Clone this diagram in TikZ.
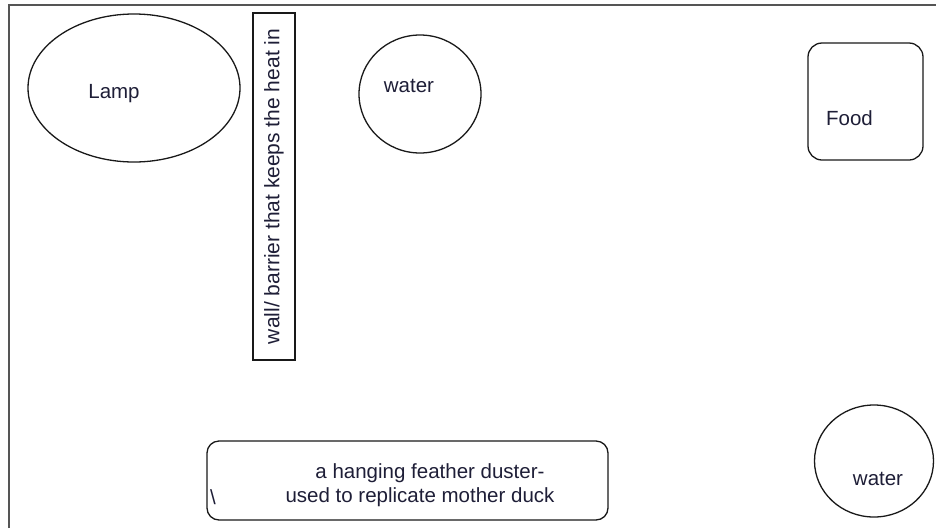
\documentclass[tikz,border=0pt]{standalone}
\usepackage{fontspec}
\setmainfont{Liberation Sans}
\usetikzlibrary{shapes.geometric, positioning}

\begin{document}
\begin{tikzpicture}[x=1pt, y=-1pt]

\definecolor{framegray}{RGB}{85, 85, 85}
\definecolor{inkblack}{RGB}{25, 25, 25}
\definecolor{labelnavy}{RGB}{30, 30, 55}

% Page size and open frame
\useasboundingbox (0,0) rectangle (936,528);
\draw[framegray, line width=2pt] (9,528) -- (9,5) -- (936,5);

\tikzset{
    round item/.style={
        draw=inkblack, line width=1.3pt, ellipse,
        inner sep=0pt
    },
    box item/.style={
        draw=inkblack, line width=1.3pt, rectangle,
        inner sep=0pt, rounded corners=14pt
    },
    wall block/.style={
        draw=inkblack, line width=1.3pt, rectangle,
        inner sep=0pt, rotate=90,
        text=labelnavy, font=\fontsize{21}{24}\selectfont
    },
    tag/.style={
        text=labelnavy, inner sep=0pt,
        font=\fontsize{20.5}{24}\selectfont
    }
}

% Heat lamp and the wall beside it
\node[round item, minimum width=212pt, minimum height=148pt] (lamp) at (134,88) {};
\node[tag] (lamptext) at ([xshift=-20pt, yshift=-6pt]lamp.center) {Lamp};
\node[wall block, minimum width=347pt, minimum height=42pt] (wall) at (274,186.5) {wall/ barrier that keeps the heat in};

% Water and food
\node[round item, minimum width=122pt, minimum height=118pt] (waterA) at (420,94) {};
\node[tag] (waterAtext) at ([xshift=-11pt, yshift=8pt]waterA.center) {water};

\node[box item, minimum width=115pt, minimum height=117pt] (food) at (865.5,101.5) {};
\node[tag] (foodtext) at ([xshift=-16pt, yshift=-17pt]food.center) {Food};

\node[round item, minimum width=119pt, minimum height=112pt] (waterB) at (874,461) {};
\node[tag] (waterBtext) at ([xshift=4pt, yshift=-18pt]waterB.center) {water};

% Feather duster box
\node[box item, minimum width=401pt, minimum height=79pt, rounded corners=12pt] (duster) at (407.5,480.5) {};
\node[tag] (dusterA) at (430,473) {a hanging feather duster-};
\node[tag] (dusterB) at (420,497) {used to replicate mother duck};
\node[tag] (slash) at (213,497) {\textbackslash};

\end{tikzpicture}
\end{document}
